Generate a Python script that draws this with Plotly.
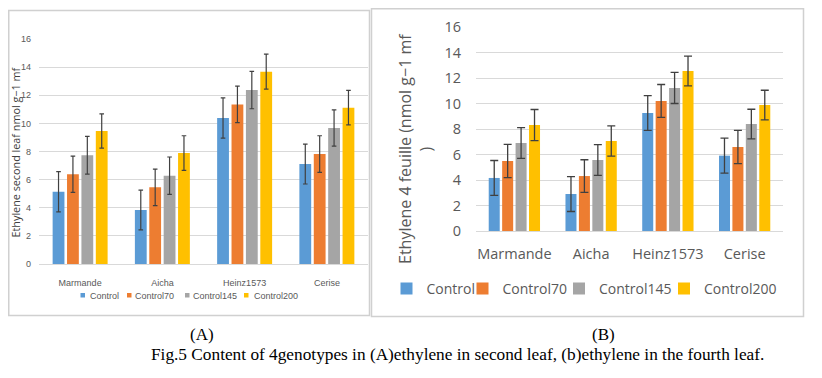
import plotly.graph_objects as go

# ---------------- data ----------------
genotypes = ["Marmande", "Aicha", "Heinz1573", "Cerise"]
series_names = ["Control", "Control70", "Control145", "Control200"]
colors = ["#5B9BD5", "#ED7D31", "#A5A5A5", "#FFC000"]
y_ticks = [0, 2, 4, 6, 8, 10, 12, 14, 16]

# Panel A: ethylene, second leaf
a_control = [5.14, 3.84, 10.38, 7.11]
a_control70 = [6.38, 5.45, 11.35, 7.82]
a_control145 = [7.73, 6.28, 12.37, 9.67]
a_control200 = [9.46, 7.89, 13.68, 11.12]
a_err_control = [1.43, 1.41, 1.43, 1.42]
a_err_control70 = [1.29, 1.30, 1.30, 1.30]
a_err_control145 = [1.34, 1.33, 1.33, 1.29]
a_err_control200 = [1.22, 1.23, 1.24, 1.23]

# Panel B: ethylene, fourth leaf
b_control = [4.16, 2.90, 9.25, 5.91]
b_control70 = [5.49, 4.31, 10.20, 6.59]
b_control145 = [6.90, 5.57, 11.22, 8.39]
b_control200 = [8.31, 7.06, 12.55, 9.88]
b_err_control = [1.37, 1.37, 1.36, 1.37]
b_err_control70 = [1.30, 1.28, 1.29, 1.30]
b_err_control145 = [1.21, 1.21, 1.22, 1.16]
b_err_control200 = [1.22, 1.18, 1.16, 1.16]

a_title = "Ethylene second leaf nmol g\u22121 mf"
b_title = "Ethylene 4 feuille (nmol g\u22121 mf<br>)"
label_a = "(A)"
label_b = "(B)"
caption = "Fig.5 Content of 4genotypes in (A)ethylene in second leaf, (b)ethylene in the fourth leaf."

# ---------------- layout helpers ----------------
# the page body has an 8px margin, so the figure starts 8px in from the window corner
OFF = 8
W, H = 822 - OFF, 378 - OFF


def px(x):
    return (x - OFF) / W


def py(y):
    return 1 - (y - OFF) / H


SMALL = "Liberation Sans, Arial, sans-serif"
SANS = "Open Sans, Segoe UI, sans-serif"
SERIF = "Liberation Serif, Times New Roman, serif"
TXT = "#595959"
GRID = "#D9D9D9"
ERR = "#404040"
FRAME = "#D0D0D0"

a_values = [a_control, a_control70, a_control145, a_control200]
a_errors = [a_err_control, a_err_control70, a_err_control145, a_err_control200]
b_values = [b_control, b_control70, b_control145, b_control200]
b_errors = [b_err_control, b_err_control70, b_err_control145, b_err_control200]

fig = go.Figure()

for name, vals, errs, col in zip(series_names, a_values, a_errors, colors):
    fig.add_trace(go.Bar(
        x=genotypes, y=vals, name=name, marker=dict(color=col, line=dict(width=0)),
        error_y=dict(type="data", array=errs, visible=True, color=ERR, thickness=1.2, width=2.3),
        xaxis="x", yaxis="y", showlegend=False,
    ))

legend_widths = [31, 51.5, 60, 0]
for name, vals, errs, col, lw in zip(series_names, b_values, b_errors, colors, legend_widths):
    fig.add_trace(go.Bar(
        x=genotypes, y=vals, name=name, marker=dict(color=col, line=dict(width=0)),
        error_y=dict(type="data", array=errs, visible=True, color=ERR, thickness=1.3, width=4),
        xaxis="x2", yaxis="y2", legend="legend2",
        legendwidth=lw if lw else None,
    ))

shapes = [
    # panel frames
    dict(type="rect", xref="paper", yref="paper", x0=px(8.75), x1=px(369.5), y0=py(315.5), y1=py(10.5),
         line=dict(color=FRAME, width=1.5), layer="below"),
    dict(type="rect", xref="paper", yref="paper", x0=px(371.5), x1=px(803.5), y0=py(316.5), y1=py(8.75),
         line=dict(color=FRAME, width=1.5), layer="below"),
]

annotations = [
    dict(text=a_title, x=px(14.5), y=py(152), xref="paper", yref="paper", textangle=-90,
         showarrow=False, xanchor="center", yanchor="middle",
         font=dict(family=SANS, size=10.8, color="#404040")),
    dict(text=b_title, x=px(415), y=py(149), xref="paper", yref="paper", textangle=-90,
         showarrow=False, xanchor="center", yanchor="middle",
         font=dict(family=SANS, size=16, color=TXT)),
    dict(text=label_a, x=px(202), y=py(334), xref="paper", yref="paper", showarrow=False,
         xanchor="center", yanchor="middle", font=dict(family=SERIF, size=17, color="black")),
    dict(text=label_b, x=px(603), y=py(334), xref="paper", yref="paper", showarrow=False,
         xanchor="center", yanchor="middle", font=dict(family=SERIF, size=17, color="black")),
    dict(text=caption, x=px(457), y=py(354), xref="paper", yref="paper", showarrow=False,
         xanchor="center", yanchor="middle", font=dict(family=SERIF, size=17.3, color="black")),
]

# compact legend for panel A (Excel-style, tighter than a Plotly legend allows)
a_leg_sq = [80.5, 127, 185, 244]
a_leg_tx = [87.5, 133, 191, 252]
for name, col, sx, tx in zip(series_names, colors, a_leg_sq, a_leg_tx):
    shapes.append(dict(type="rect", xref="paper", yref="paper", x0=px(sx), x1=px(sx + 4.5),
                       y0=py(297.5), y1=py(293), line=dict(width=0), fillcolor=col))
    annotations.append(dict(text=name, x=px(tx), y=py(295.5), xref="paper", yref="paper",
                            showarrow=False, xanchor="left", yanchor="middle",
                            font=dict(family=SMALL, size=9, color=TXT)))

fig.update_layout(
    width=W, height=H, autosize=False,
    margin=dict(l=0, r=0, t=0, b=0, pad=0, autoexpand=False),
    paper_bgcolor="white", plot_bgcolor="white",
    barmode="group", bargap=0.3, bargroupgap=0.18,
    xaxis=dict(domain=[px(39), px(368)], anchor="y", showgrid=False, showline=False, ticks="",
               tickfont=dict(family=SMALL, size=9, color=TXT), ticklabelstandoff=12,
               automargin=False, fixedrange=True),
    yaxis=dict(domain=[py(264), py(39)], anchor="x", range=[0, 16], tickvals=y_ticks,
               showgrid=True, gridcolor=GRID, gridwidth=1, zeroline=True, zerolinecolor=GRID,
               zerolinewidth=1, showline=False, ticks="", automargin=False,
               tickfont=dict(family=SMALL, size=9, color=TXT), ticklabelstandoff=7),
    xaxis2=dict(domain=[px(476), px(783)], anchor="y2", showgrid=False, showline=False, ticks="",
                tickfont=dict(family=SANS, size=14.5, color=TXT), ticklabelstandoff=12,
                automargin=False),
    yaxis2=dict(domain=[py(231), py(27)], anchor="x2", range=[0, 16], tickvals=y_ticks,
                showgrid=True, gridcolor=GRID, gridwidth=1, zeroline=True, zerolinecolor=GRID,
                zerolinewidth=1, showline=False, ticks="", automargin=False,
                tickfont=dict(family=SANS, size=14.5, color=TXT), ticklabelstandoff=14),
    legend2=dict(orientation="h", x=px(386.5), xanchor="left", y=py(289), yanchor="middle",
                 font=dict(family=SANS, size=14, color=TXT), itemwidth=30,
                 bgcolor="rgba(0,0,0,0)", borderwidth=0),
    shapes=shapes,
    annotations=annotations,
)

fig.write_html("out.html")
